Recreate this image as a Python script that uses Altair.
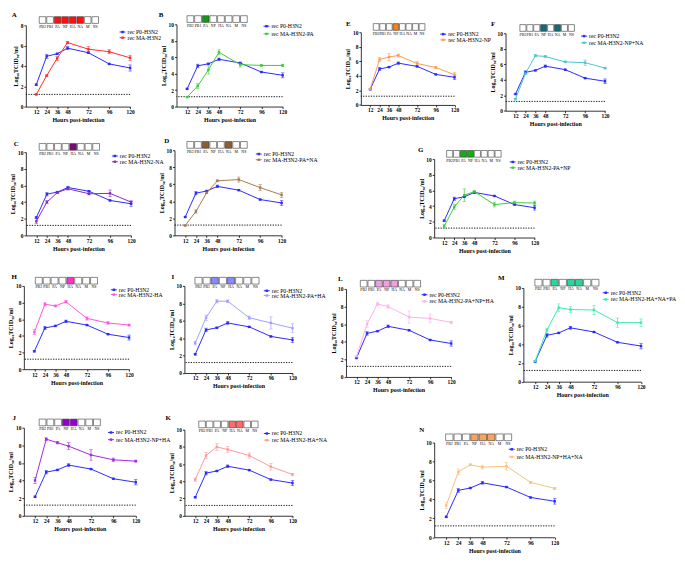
import altair as alt
import pandas as pd

HOURS = [12, 24, 36, 48, 72, 96, 120]
GENES = ["PB2", "PB1", "PA", "NP", "HA", "NA", "M", "NS"]
LOD = 1.2
YTITLE = "Log\u2081\u2080TCID\u2085\u2080/ml"
XTITLE = "Hours post-infection"

P0_NAME = "rec P0-H3N2"
P0_MEAN = [2.15, 4.95, 5.2, 5.75, 5.3, 4.2, 3.8]
P0_SD = [0.08, 0.2, 0.05, 0.15, 0.05, 0.05, 0.3]

A_NAME = "rec MA-H3N2"
A_MEAN = [1.2, 3.05, 4.75, 6.3, 5.65, 5.4, 4.8]
A_SD = [0.05, 0.05, 0.2, 0.1, 0.25, 0.2, 0.25]
A_GENES = ["PA", "NP", "HA", "NA"]

B_NAME = "rec MA-H3N2-PA"
B_MEAN = [1.15, 2.5, 4.45, 6.6, 5.1, 5.0, 5.0]
B_SD = [0.05, 0.3, 0.5, 0.3, 0.3, 0.1, 0.15]
B_GENES = ["PA"]

C_NAME = "rec MA-H3N2-NA"
C_MEAN = [1.7, 4.0, 5.15, 5.6, 5.0, 5.05, 4.0]
C_SD = [0.3, 0.2, 0.1, 0.15, 0.15, 0.4, 0.15]
C_GENES = ["HA"]

D_NAME = "rec MA-H3N2-PA+NA"
D_MEAN = [1.15, 2.8, 5.0, 6.4, 6.55, 5.6, 4.75]
D_SD = [0.05, 0.2, 0.1, 0.1, 0.3, 0.35, 0.3]
D_GENES = ["PA", "NA"]

E_NAME = "rec MA-H3N2-NP"
E_MEAN = [2.2, 6.25, 6.6, 6.8, 5.7, 5.15, 4.15]
E_SD = [0.1, 0.3, 0.5, 0.2, 0.3, 0.1, 0.35]
E_GENES = ["NP"]

F_NAME = "rec MA-H3N2-NP+NA"
F_MEAN = [1.5, 4.8, 7.1, 7.0, 6.3, 6.2, 5.5]
F_SD = [0.1, 0.1, 0.15, 0.1, 0.1, 0.35, 0.1]
F_GENES = ["NP", "NA"]

G_NAME = "rec MA-H3N2-PA+NP"
G_MEAN = [1.45, 3.9, 5.4, 5.85, 4.2, 4.45, 4.4]
G_SD = [0.25, 0.3, 0.8, 0.1, 0.3, 0.2, 0.25]
G_GENES = ["PA", "NP"]

H_NAME = "rec MA-H3N2-HA"
H_MEAN = [4.45, 7.8, 7.6, 8.1, 6.1, 5.55, 5.3]
H_SD = [0.3, 0.2, 0.1, 0.15, 0.2, 0.15, 0.1]
H_GENES = ["HA"]

I_NAME = "rec MA-H3N2-PA+HA"
I_MEAN = [3.45, 6.35, 8.25, 8.25, 6.35, 5.75, 5.15]
I_SD = [0.2, 0.3, 0.2, 0.15, 0.2, 0.7, 0.5]
I_GENES = ["PA", "HA"]

L_NAME = "rec MA-H3N2-PA+NP+HA"
L_MEAN = [2.35, 6.0, 8.3, 8.0, 6.8, 6.65, 6.2]
L_SD = [0.1, 0.4, 0.2, 0.2, 0.7, 0.5, 0.1]
L_GENES = ["PA", "NP", "HA"]

M_NAME = "rec MA-H3N2-HA+NA+PA"
M_MEAN = [2.2, 5.5, 7.9, 7.7, 7.65, 6.3, 6.3]
M_SD = [0.05, 0.2, 0.4, 0.3, 0.5, 0.5, 0.4]
M_GENES = ["PA", "HA", "NA"]

J_NAME = "rec MA-H3N2-NP+HA"
J_MEAN = [4.0, 8.7, 8.3, 7.9, 6.9, 6.35, 6.2]
J_SD = [0.35, 0.15, 0.15, 0.4, 0.6, 0.2, 0.1]
J_GENES = ["NP", "HA"]

K_NAME = "rec MA-H3N2-HA+NA"
K_MEAN = [4.2, 7.0, 8.0, 7.7, 7.0, 5.7, 4.8]
K_SD = [0.2, 0.35, 0.4, 0.35, 0.3, 0.4, 0.1]
K_GENES = ["HA", "NA"]

N_NAME = "rec MA-H3N2-NP+HA+NA"
N_MEAN = [3.35, 6.9, 7.65, 7.4, 7.5, 5.8, 5.15]
N_SD = [0.3, 0.3, 0.1, 0.2, 0.4, 0.1, 0.1]
N_GENES = ["NP", "HA", "NA"]

DATA = {
    "A": (A_NAME, A_MEAN, A_SD, A_GENES),
    "B": (B_NAME, B_MEAN, B_SD, B_GENES),
    "E": (E_NAME, E_MEAN, E_SD, E_GENES),
    "F": (F_NAME, F_MEAN, F_SD, F_GENES),
    "C": (C_NAME, C_MEAN, C_SD, C_GENES),
    "D": (D_NAME, D_MEAN, D_SD, D_GENES),
    "G": (G_NAME, G_MEAN, G_SD, G_GENES),
    "H": (H_NAME, H_MEAN, H_SD, H_GENES),
    "I": (I_NAME, I_MEAN, I_SD, I_GENES),
    "L": (L_NAME, L_MEAN, L_SD, L_GENES),
    "M": (M_NAME, M_MEAN, M_SD, M_GENES),
    "J": (J_NAME, J_MEAN, J_SD, J_GENES),
    "K": (K_NAME, K_MEAN, K_SD, K_GENES),
    "N": (N_NAME, N_MEAN, N_SD, N_GENES),
}

# ---- styling ----
FONT = "Liberation Serif"
P0_COLOR = "#2a2aff"
STYLE = {
    "A": ("#ff2a2a", "#ff1010"),
    "B": ("#3ccc3c", "#129a12"),
    "E": ("#ff9a55", "#ff7f10"),
    "F": ("#4cc4cc", "#0a6e80"),
    "C": ("#8a2cc0", "#7a0a7a"),
    "D": ("#a87b4f", "#8d5d2a"),
    "G": ("#3ccc3c", "#10b010"),
    "H": ("#ff55dd", "#ff33cc"),
    "I": ("#a0a0ff", "#8888ff"),
    "L": ("#ffb0e8", "#f0a0e0"),
    "M": ("#3de8b0", "#2ad6a0"),
    "J": ("#a426e0", "#9400d3"),
    "K": ("#ff9a9a", "#ff6b6b"),
    "N": ("#ffbe7a", "#f5a55f"),
}
# view left, view top, width, height, ymax, legend x, legend row1 y, legend row2 y,
# gene box start/end, letter x/y  (reference pixels)
LAYOUT = {
    "A": (15, 15, 109, 85, 8, 98, 7, 13, 14, 76, -12, -11),
    "B": (172, 14, 111, 86, 10, 91, 2, 10, 11, 74, -16, -10),
    "E": (365, 22, 98, 76, 10, 83, 2, 8, 13, 67, -13, -9),
    "F": (516, 23, 104, 81, 10, 79, 3, 10, 15, 72, -13, -10),
    "C": (15, 147, 110, 87, 10, 90, 4, 10, 14, 77, -10, -9),
    "D": (170, 145, 112, 89, 10, 85, 4, 10, 13, 76, -8, -10),
    "G": (442, 154, 105, 82, 10, 79, 3, 9, 13, 70, -14, -9),
    "H": (13, 287, 110, 87, 10, 91, 4, 9, 12, 77, -10, -9),
    "I": (180, 287, 113, 91, 10, 83, 5, 10, 11, 78, -12, -9),
    "L": (349, 290, 110, 92, 10, 79, 6, 13, 15, 78, -6, -10),
    "M": (535, 289, 123, 98, 10, 83, 5, 12, 12, 79, -23, -10),
    "J": (13, 435, 117, 92, 10, 88, 5, 12.5, 16, 80, -10, -10),
    "K": (180, 437, 113, 90, 10, 83, 4, 11, 15, 77, -17, -12),
    "N": (442, 451, 126, 99, 10, 78, 7, 15, 12, 81, -13, -13),
}
K = 0.965


def spacer(w, h):
    return alt.Chart(pd.DataFrame({"s": [0]})).mark_point(opacity=0).properties(width=w, height=h)


def make_panel(key):
    name, mean, sd, genes_on = DATA[key]
    line_c, box_c = STYLE[key]
    xr, yr, wr, hr, ymax, lgx, ly0, ly1, gb0, gb1, ltx, lty = LAYOUT[key]
    rows = []
    for s, m, e in ((P0_NAME, P0_MEAN, P0_SD), (name, mean, sd)):
        for t, v, d in zip(HOURS, m, e):
            rows.append(dict(hour=t, value=v, lo=v - d, hi=v + d, series=s))
    df = pd.DataFrame(rows)

    xenc = alt.X("hour:Q", scale=alt.Scale(domain=[0, 120], nice=False, zero=False),
                 axis=alt.Axis(values=HOURS, title=XTITLE, format="d", labelFlush=False))
    yscale = alt.Scale(domain=[0, ymax], nice=False)
    yaxis = alt.Axis(values=list(range(0, ymax + 1, 2)), title=YTITLE, format="d")
    color = alt.Color("series:N",
                      scale=alt.Scale(domain=[P0_NAME, name], range=[P0_COLOR, line_c]),
                      legend=None)
    base = alt.Chart(df)
    lod = alt.Chart(pd.DataFrame({"value": [LOD]})).mark_rule(
        color="black", strokeDash=[1.3, 1.3], strokeWidth=0.9
    ).encode(y=alt.Y("value:Q", scale=yscale, axis=yaxis))
    err = base.mark_rule(strokeWidth=0.7).encode(
        x=xenc, y=alt.Y("lo:Q", scale=yscale, axis=yaxis), y2="hi:Q", color=color)
    cap_lo = base.mark_tick(orient="horizontal", size=3.5, thickness=0.7).encode(
        x=xenc, y=alt.Y("lo:Q", scale=yscale, axis=yaxis), color=color)
    cap_hi = base.mark_tick(orient="horizontal", size=3.5, thickness=0.7).encode(
        x=xenc, y=alt.Y("hi:Q", scale=yscale, axis=yaxis), color=color)
    line = base.mark_line(strokeWidth=1).encode(
        x=xenc, y=alt.Y("value:Q", scale=yscale, axis=yaxis), color=color)
    pts = base.mark_point(filled=True, shape="square", size=6, opacity=1).encode(
        x=xenc, y=alt.Y("value:Q", scale=yscale, axis=yaxis), color=color)

    # gene segment strip
    gdf = pd.DataFrame({"gene": GENES, "on": [g in genes_on for g in GENES]})
    gx = alt.X("gene:N", sort=GENES,
               scale=alt.Scale(domain=GENES, range=[gb0 * K, gb1 * K], paddingInner=0.12, paddingOuter=0),
               axis=None)
    rect = alt.Chart(gdf).mark_rect(stroke="#3a3a3a", strokeWidth=0.6).encode(
        x=gx, y=alt.value(-9 * K), y2=alt.value(-2 * K),
        fill=alt.condition("datum.on", alt.value(box_c), alt.value("white")))
    glab = alt.Chart(gdf).mark_text(font=FONT, fontSize=3.9, baseline="middle", color="black").encode(
        x=gx, y=alt.value(1.5), text="gene:N")
    letter = alt.Chart(pd.DataFrame({"t": [key]})).mark_text(
        font=FONT, fontSize=7, fontWeight="bold", baseline="middle", align="center", color="black"
    ).encode(x=alt.value(ltx * K), y=alt.value(lty * K), text="t:N")

    # legend built from the series names
    ldf = pd.DataFrame({"series": [P0_NAME, name]})
    ly = alt.Y("series:N", scale=alt.Scale(type="point", domain=[P0_NAME, name],
                                           range=[ly0 * K, ly1 * K], padding=0), axis=None)
    lsym = alt.Chart(ldf).mark_rule(strokeWidth=1).encode(
        x=alt.value(lgx * K), x2=alt.value(lgx * K + 6), y=ly, color=color)
    lpt = alt.Chart(ldf).mark_point(filled=True, shape="square", size=6, opacity=1).encode(
        x=alt.value(lgx * K + 3), y=ly, color=color)
    ltxt = alt.Chart(ldf).mark_text(font=FONT, fontSize=5.8, align="left", baseline="middle",
                                     color="black").encode(
        x=alt.value(lgx * K + 8), y=ly, text="series:N")

    data_layer = alt.layer(lod, err, cap_lo, cap_hi, line, pts)
    deco_layer = alt.layer(rect, glab, letter, lsym, lpt, ltxt)
    panel = alt.layer(data_layer, deco_layer).resolve_scale(x="independent", y="independent").properties(
        width=wr * K, height=hr * K)

    lx = (xr - 13) * K + 1
    lyy = (yr - 14) * K + 1
    col = alt.vconcat(spacer(1, lyy), panel, spacing=0, bounds="flush").resolve_scale(color="independent")
    return alt.hconcat(spacer(lx, 1), col, spacing=0, bounds="flush").resolve_scale(color="independent")


items = [make_panel(k) for k in LAYOUT]
chart = alt.vconcat(*items, spacing=0, bounds="flush").resolve_scale(color="independent").properties(
    padding=0, background="white"
).configure(font=FONT).configure_view(strokeWidth=0).configure_axis(
    grid=False, domainColor="black", domainWidth=0.8, tickColor="black", tickSize=2, tickWidth=0.8,
    labelFont=FONT, labelFontWeight="bold", labelFontSize=5.5, labelPadding=1, labelColor="black",
    titleFont=FONT, titleFontWeight="bold", titleFontSize=6, titlePadding=1.5, titleColor="black"
)

chart.save("out.html", embed_options={"renderer": "svg", "actions": False})
